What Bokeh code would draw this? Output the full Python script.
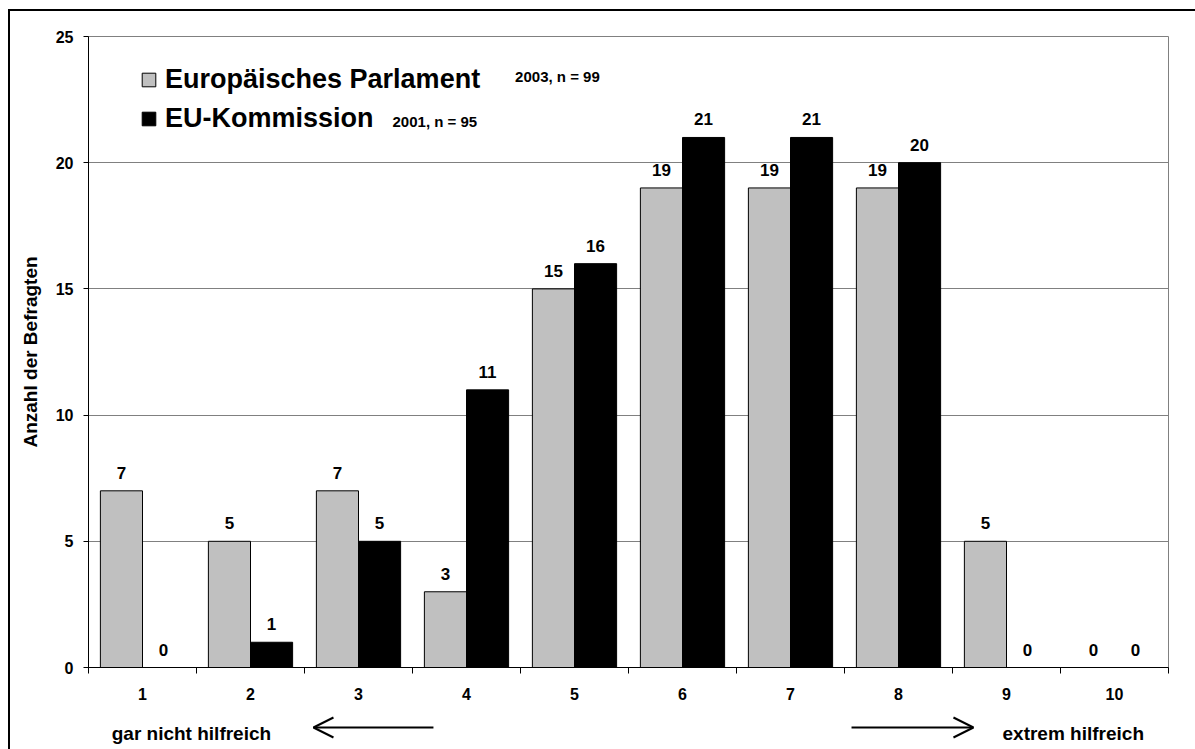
from bokeh.plotting import figure
from bokeh.layouts import column
from bokeh.models import (ColumnDataSource, FixedTicker, LabelSet, Label, Legend,
                          LegendItem, Arrow, OpenHead)
from bokeh.core.properties import value
from bokeh.transform import dodge
from bokeh.embed import file_html
from bokeh.resources import INLINE

# ---- data ----
categories = [1, 2, 3, 4, 5, 6, 7, 8, 9, 10]
parlament = [7, 5, 7, 3, 15, 19, 19, 19, 5, 0]
kommission = [0, 1, 5, 11, 16, 21, 21, 20, 0, 0]
y_ticks = [0, 5, 10, 15, 20, 25]
series_names = ["Europäisches Parlament", "EU-Kommission"]
series_notes = ["2003, n = 99", "2001, n = 95"]
axis_title = "Anzahl der Befragten"
scale_low = "gar nicht hilfreich"
scale_high = "extrem hilfreich"

FONT = "Liberation Sans"
GREY = "#C0C0C0"

src = ColumnDataSource(dict(
    x=categories,
    parl=parlament,
    komm=kommission,
    parl_txt=[str(v) for v in parlament],
    komm_txt=[str(v) for v in kommission],
))

p = figure(width=1185, height=704, x_range=(0.5, 10.5), y_range=(0, 25),
           output_backend="svg", toolbar_location=None,
           min_border_left=78, min_border_right=27,
           min_border_top=25, min_border_bottom=48)
p.background_fill_color = "white"
p.border_fill_color = "white"
p.outline_line_color = "#808080"
p.outline_line_width = 1

off = 0.195
bw = 0.39
r1 = p.vbar(x=dodge("x", -off), top="parl", width=bw, source=src,
            fill_color=GREY, line_color="black", line_width=1)
r2 = p.vbar(x=dodge("x", off), top="komm", width=bw, source=src,
            fill_color="black", line_color="black", line_width=1)

for col, txt, d in (("parl", "parl_txt", -off), ("komm", "komm_txt", off)):
    p.add_layout(LabelSet(x=dodge("x", d), y=col, text=txt, source=src,
                          text_align="center", text_baseline="alphabetic",
                          y_offset=12, text_font=value(FONT),
                          text_font_style="bold", text_font_size="17px",
                          text_color="black", background_fill_color="white"))

# axes
p.xaxis.ticker = FixedTicker(ticks=categories,
                             minor_ticks=[c - 0.5 for c in categories] + [categories[-1] + 0.5])
p.xaxis.major_tick_line_color = None
p.xaxis.major_tick_out = 0
p.xaxis.major_tick_in = 0
p.xaxis.minor_tick_line_color = "black"
p.xaxis.minor_tick_out = 6
p.xaxis.minor_tick_in = 0
p.xaxis.major_label_standoff = 14
p.xaxis.axis_line_color = "black"

p.yaxis.ticker = FixedTicker(ticks=y_ticks)
p.yaxis.minor_tick_line_color = None
p.yaxis.major_tick_out = 5
p.yaxis.major_tick_in = 0
p.yaxis.major_tick_line_color = "black"
p.yaxis.major_label_standoff = 10
p.yaxis.axis_line_color = "black"
p.yaxis.axis_label = axis_title
p.yaxis.axis_label_standoff = 12

for ax in (p.xaxis, p.yaxis):
    ax.major_label_text_font = FONT
    ax.major_label_text_font_style = "bold"
    ax.major_label_text_font_size = "16px"
    ax.major_label_text_color = "black"
p.yaxis.axis_label_text_font = FONT
p.yaxis.axis_label_text_font_style = "bold"
p.yaxis.axis_label_text_font_size = "19px"
p.yaxis.axis_label_text_color = "black"

p.xgrid.visible = False
p.ygrid.ticker = FixedTicker(ticks=y_ticks)
p.ygrid.grid_line_color = "#808080"
p.ygrid.grid_line_width = 1

# legend (two single-item legends for exact row placement)
for name, rend, loc in ((series_names[0], r1, (52, 572)), (series_names[1], r2, (52, 533))):
    leg = Legend(items=[LegendItem(label=name, renderers=[rend])], location=loc,
                 glyph_width=17, glyph_height=17, label_standoff=8,
                 label_text_font=FONT, label_text_font_style="bold",
                 label_text_font_size="27px", label_text_color="black",
                 padding=0, margin=0,
                 border_line_color=None, background_fill_alpha=0)
    p.add_layout(leg)

for note, x, y in ((series_notes[0], 4.45, 23.4), (series_notes[1], 3.315, 21.65)):
    p.add_layout(Label(x=x, y=y, text=note, text_font=FONT, text_font_style="bold",
                       text_font_size="15px", text_color="black",
                       text_baseline="alphabetic"))

# bottom strip: scale direction annotations, sharing the x scale
q = figure(width=1185, height=34, x_range=p.x_range, y_range=(0, 34),
           output_backend="svg", toolbar_location=None,
           x_axis_type=None, y_axis_type=None,
           min_border_left=78, min_border_right=27,
           min_border_top=0, min_border_bottom=0)
q.outline_line_color = None
q.grid.visible = False
q.background_fill_color = "white"
q.border_fill_color = "white"

q.add_layout(Arrow(x_start=3.694, y_start=22, x_end=2.583, y_end=22,
                   line_width=2, line_color="black",
                   end=OpenHead(size=20, line_width=2, line_color="black")))
q.add_layout(Arrow(x_start=7.565, y_start=22, x_end=8.694, y_end=22,
                   line_width=2, line_color="black",
                   end=OpenHead(size=20, line_width=2, line_color="black")))
q.add_layout(Label(x=0.715, y=16, text=scale_low, text_font=FONT,
                   text_font_style="bold", text_font_size="19px",
                   text_color="black", text_baseline="alphabetic"))
q.add_layout(Label(x=8.963, y=16, text=scale_high, text_font=FONT,
                   text_font_style="bold", text_font_size="19px",
                   text_color="black", text_baseline="alphabetic"))

layout = column(p, q, spacing=0)
layout.styles = {"margin-left": "8px", "margin-top": "9px",
                 "border-left": "2px solid black", "border-top": "2px solid black"}

open("out.html", "w").write(file_html(layout, INLINE, title="Chart"))
